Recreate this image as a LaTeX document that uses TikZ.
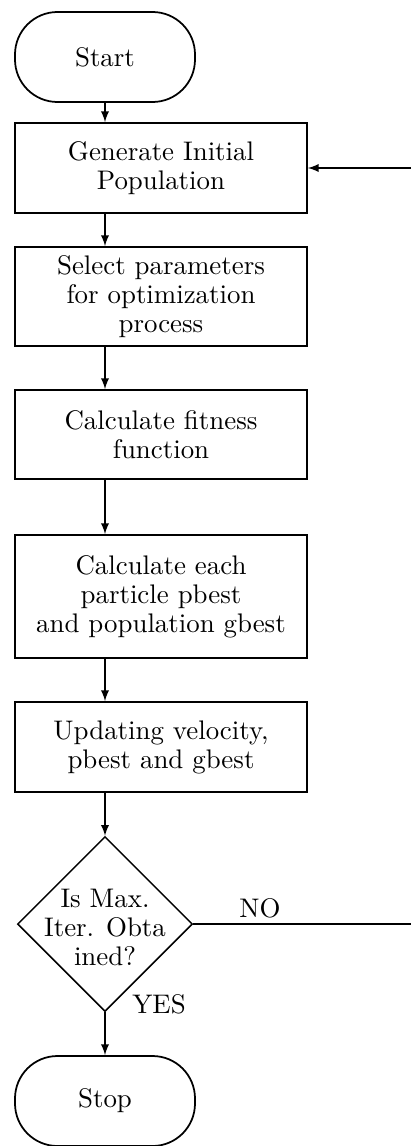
\documentclass[tikz,border=0pt]{standalone}
\usepackage{amssymb}
\usepackage{amsmath}
\usetikzlibrary{shapes.geometric}

\begin{document}
\begin{tikzpicture}[x=0.4pt, y=-0.4pt,
    every node/.style={font=\fontsize{10.75}{11.6}\selectfont},
    terminal/.style={draw, line width=0.7pt, rectangle, rounded corners=17pt, minimum width=72pt, minimum height=36pt},
    process/.style={draw, line width=0.7pt, rectangle, minimum width=116.8pt, inner ysep=2pt, align=center},
    decision/.style={draw, line width=0.6pt, diamond, minimum size=70pt, inner sep=0pt},
    flow/.style={-latex, line width=0.5pt}]
    \useasboundingbox (0,0) rectangle (411,1146);
    \node[terminal] (start) at (105,57) {Start};
    \node[process, minimum height=36pt] (init) at (161,168) {Generate Initial\\Population};
    \node[process, minimum height=39.6pt] (select) at (161,296.5) {Select parameters\\for optimization\\process};
    \node[process, minimum height=35.6pt] (fitness) at (161,434.5) {Calculate fitness\\function};
    \node[process, minimum height=49.2pt] (best) at (161,596.5) {Calculate each\\particle pbest\\and population gbest};
    \node[process, minimum height=36pt] (update) at (161,747) {Updating velocity,\\pbest and gbest};
    \node[decision] (check) at (105,924) {};
    \node[align=center] (checktext) at (105,927) {Is Max.\\Iter. Obta\\ined?};
    \node[terminal] (stop) at (105,1101) {Stop};
    \coordinate (loopdown) at (416,924);
    \coordinate (loopup) at (416,168);
    \draw[flow] (start.south) -- (start.south |- init.north);
    \draw[flow] (start.south |- init.south) -- (start.south |- select.north);
    \draw[flow] (start.south |- select.south) -- (start.south |- fitness.north);
    \draw[flow] (start.south |- fitness.south) -- (start.south |- best.north);
    \draw[flow] (start.south |- best.south) -- (start.south |- update.north);
    \draw[flow] (start.south |- update.south) -- (check.north);
    \draw[flow] (check.south) -- (stop.north);
    \draw[flow] (check.east) -- (loopdown) -- (loopup) -- (init.east);
    \node (no) at (260,908) {NO};
    \node (yes) at (159,1004) {YES};
\end{tikzpicture}
\end{document}
